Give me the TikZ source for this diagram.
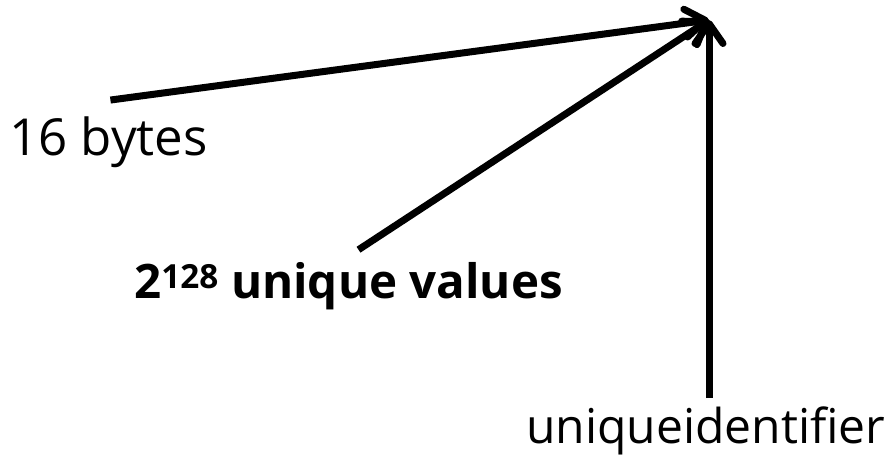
\documentclass[tikz,border=0pt]{standalone}
\usepackage{fontspec}
\setmainfont{Open Sans}
\usepackage{tikz}
\usetikzlibrary{arrows.meta,positioning,calc}

\begin{document}
\begin{tikzpicture}[
  x=1pt,y=-1pt,
  label/.style={inner sep=0pt,anchor=base west,text=black},
  pointer/.style={line width=7pt,
    -{Straight Barb[length=20pt,width=28pt,round]}},
]
  \useasboundingbox (0,0) rectangle (895,460);
  \coordinate (tip) at (709,20);
  \node[label,font=\fontsize{51}{60}\selectfont] (bytes) at (9,155) {16 bytes};
  \node[label,font=\fontsize{47.5}{56}\selectfont\bfseries] (values) at (134,298) {2\textsuperscript{128} unique values};
  \node[label,font=\fontsize{48}{57}\selectfont] (uid) at (526,443) {uniqueidentifier};

  \draw[pointer] ([xshift=2pt,yshift=16pt]bytes.north) -- (tip);
  \draw[pointer] ([xshift=10pt,yshift=12pt]values.north) -- (tip);
  \draw[pointer] ([yshift=8pt]uid.north -| tip) -- (tip);
\end{tikzpicture}
\end{document}
